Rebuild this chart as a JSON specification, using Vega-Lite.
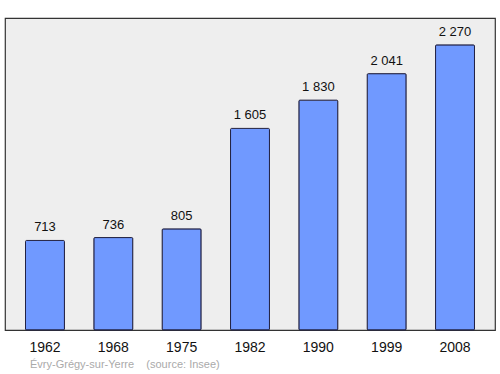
{
  "$schema": "https://vega.github.io/schema/vega-lite/v6.json",
  "width": 490,
  "height": 312,
  "autosize": "none",
  "padding": {"left": 5, "top": 18, "right": 5, "bottom": 44},
  "background": "white",
  "config": {
    "font": "Liberation Sans",
    "view": {"fill": "#eeeeee", "stroke": "#333333", "strokeWidth": 1.2}
  },
  "title": {
    "text": "Évry-Grégy-sur-Yerre\u00a0\u00a0\u00a0\u00a0(source: Insee)",
    "orient": "bottom",
    "anchor": "start",
    "dx": 25,
    "offset": 5,
    "fontSize": 11,
    "fontWeight": "normal",
    "color": "#aaaaaa",
    "font": "Liberation Sans"
  },
  "data": {
    "values": [
      {"year": "1962", "pop": 713, "label": "713"},
      {"year": "1968", "pop": 736, "label": "736"},
      {"year": "1975", "pop": 805, "label": "805"},
      {"year": "1982", "pop": 1605, "label": "1 605"},
      {"year": "1990", "pop": 1830, "label": "1 830"},
      {"year": "1999", "pop": 2041, "label": "2 041"},
      {"year": "2008", "pop": 2270, "label": "2 270"}
    ]
  },
  "encoding": {
    "x": {
      "field": "year",
      "type": "ordinal",
      "sort": null,
      "scale": {"paddingInner": 0.43, "paddingOuter": 0.3},
      "axis": {
        "title": null,
        "labelAngle": 0,
        "ticks": false,
        "domain": false,
        "labelFontSize": 14,
        "labelColor": "#111111",
        "labelPadding": 10
      }
    },
    "y": {
      "field": "pop",
      "type": "quantitative",
      "scale": {"domain": [0, 2484], "nice": false},
      "axis": null
    }
  },
  "layer": [
    {
      "mark": {"type": "bar", "fill": "#7099ff", "stroke": "#222244", "strokeWidth": 1, "cornerRadius": 1}
    },
    {
      "mark": {"type": "text", "dy": -13, "fontSize": 13, "color": "#111111"},
      "encoding": {"text": {"field": "label"}}
    }
  ]
}
